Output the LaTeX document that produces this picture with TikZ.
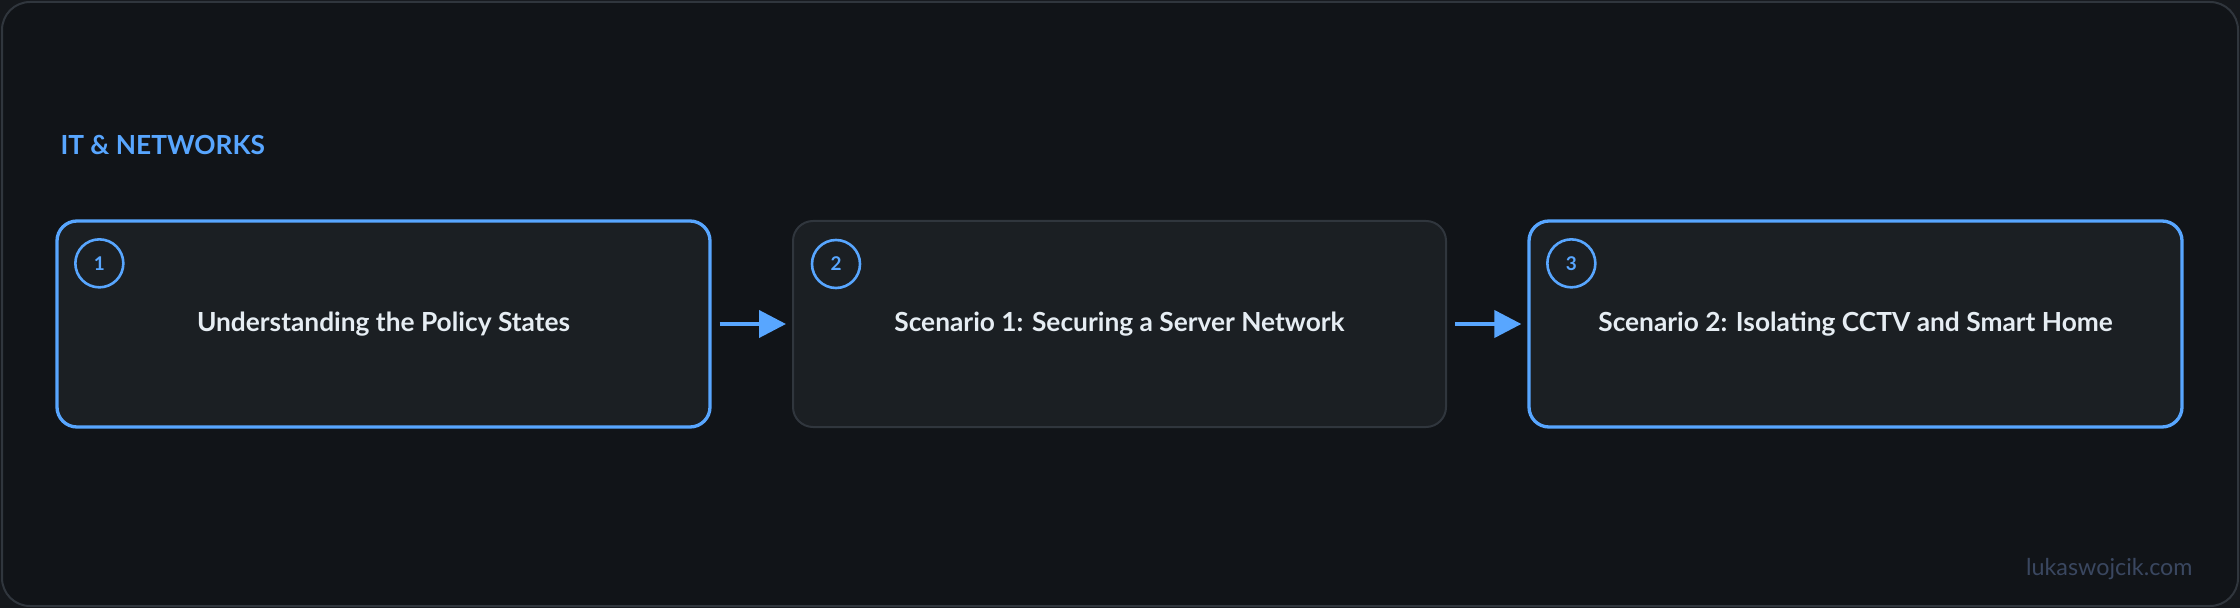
\documentclass[tikz,border=0pt]{standalone}
\usepackage{fontspec}
\setmainfont{Lato}
\usetikzlibrary{arrows.meta,positioning,calc}
\definecolor{outerbg}{HTML}{15181C}
\definecolor{framebg}{HTML}{111418}
\definecolor{frameline}{HTML}{30363D}
\definecolor{boxbg}{HTML}{1B1F23}
\definecolor{accent}{HTML}{58A6FF}
\definecolor{boxtext}{HTML}{E6EDF3}
\definecolor{wmark}{HTML}{3A4760}
\tikzset{
  stepbox/.style={draw, rounded corners=20bp, minimum width=653bp, minimum height=206bp,
    fill=boxbg, text=boxtext, font=\fontsize{26.4}{30}\selectfont\bfseries, inner sep=0pt},
  activebox/.style={stepbox, draw=accent, line width=3.3bp},
  plainbox/.style={stepbox, draw=frameline, line width=2bp},
  numcircle/.style={circle, draw=accent, line width=2.6bp, minimum size=48bp, inner sep=0pt,
    text=accent, font=\fontsize{19}{22}\selectfont\bfseries},
  flowarrow/.style={draw=accent, line width=4bp, -{Triangle[length=27bp,width=27bp]}}
}
\begin{document}
\begin{tikzpicture}[x=1bp,y=-1bp]
\useasboundingbox (0,0) rectangle (2240,608);
\fill[outerbg] (0,0) rectangle (2240,608);
\draw[frameline, fill=framebg, line width=2bp, rounded corners=28bp] (2,2) rectangle (2238,606);
\node[anchor=base west, text=accent, font=\fontsize{26.4}{30}\selectfont\bfseries] (title) at (57,155) {IT \& NETWORKS};
\node[activebox] (b1) at (383.5,324) {Understanding the Policy States};
\node[plainbox] (b2) at (1119.5,324) {Scenario 1: Securing a Server Network};
\node[activebox] (b3) at (1855.5,324) {Scenario 2: Isolating CCTV and Smart Home};
\node[numcircle] (c1) at ($(b1.north west)+(44,44)$) {1};
\node[numcircle] (c2) at ($(b2.north west)+(44,44)$) {2};
\node[numcircle] (c3) at ($(b3.north west)+(44,44)$) {3};
\draw[flowarrow] ([xshift=8bp]b1.east) -- ([xshift=-6bp]b2.west);
\draw[flowarrow] ([xshift=8bp]b2.east) -- ([xshift=-6bp]b3.west);
\node[anchor=base east, text=wmark, font=\fontsize{23.4}{26}\selectfont] (wm) at (2196,575) {lukaswojcik.com};
\end{tikzpicture}
\end{document}
